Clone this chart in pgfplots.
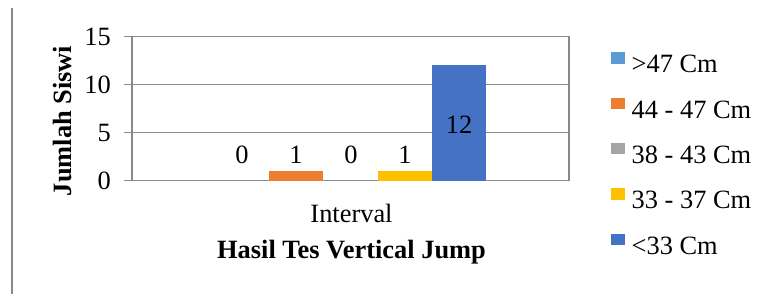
\documentclass[border=0pt]{standalone}
\usepackage{fontspec}
\setmainfont{Liberation Serif}
\usepackage{pgfplots}
\pgfplotsset{compat=1.18}
\definecolor{cA}{HTML}{5B9BD5}
\definecolor{cB}{HTML}{ED7D31}
\definecolor{cC}{HTML}{A5A5A5}
\definecolor{cD}{HTML}{FFC000}
\definecolor{cE}{HTML}{4472C4}
\definecolor{gridc}{HTML}{898989}
\pgfplotsset{sqleg/.style={legend image code/.code={\fill[##1] (0bp,3bp) rectangle (14bp,14.5bp);}}}
\begin{document}
\begin{tikzpicture}[font=\fontsize{26.5}{30}\selectfont]
\useasboundingbox (0,0) rectangle (768bp,294bp);
\draw[gridc, line width=1.5bp] (12bp,0) -- (12bp,286bp);
\begin{axis}[
  at={(132bp,113.3bp)}, anchor=south west,
  scale only axis, width=437bp, height=144bp,
  xmin=0, xmax=437, ymin=0, ymax=15,
  ybar, bar width=54, bar shift=0pt,
  ytick={0,5,10,15},
  ymajorgrids,
  major grid style={gridc, line width=1.3bp},
  axis line style={gridc, line width=1.3bp},
  tick style={gridc, line width=1.3bp},
  major tick length=8bp,
  tick align=outside,
  ytick pos=left, xtick pos=bottom,
  xtick={219.5}, xticklabels={Interval},
  xtick style={draw=none},
  xticklabel style={anchor=base, inner sep=0pt, yshift=-34.3bp},
  yticklabel style={anchor=east, inner sep=0pt, xshift=-13bp},
  /pgf/number format/assume math mode=true,
  xlabel={\bfseries Hasil Tes Vertical Jump},
  xlabel style={at={(axis description cs:0.5023,0)}, anchor=base, inner sep=0pt, yshift=-78bp},
  ylabel={\bfseries Jumlah Siswi},
  ylabel style={at={(axis description cs:-0.160,0.4155)}, anchor=center, rotate=0, inner sep=0pt},
  legend cell align=left,
  legend style={draw=none, fill=none, inner sep=0pt, outer sep=0pt,
    at={(axis description cs:1.0961,0.1736)}, anchor=west,
    column sep=6.7bp, row sep=19.9bp,
    nodes={inner sep=0pt, text height=17bp, text depth=5bp}},
]
\addplot[fill=cA, draw=none, sqleg, nodes near coords,
  nodes near coords style={anchor=center, inner sep=0pt, yshift=25.7bp, text=black}]
  coordinates {(110,0)};
\addlegendentry{>47 Cm}
\addplot[fill=cB, draw=none, sqleg, nodes near coords,
  nodes near coords style={anchor=center, inner sep=0pt, yshift=16.1bp, text=black}]
  coordinates {(164,1)};
\addlegendentry{44 - 47 Cm}
\addplot[fill=cC, draw=none, sqleg, nodes near coords,
  nodes near coords style={anchor=center, inner sep=0pt, yshift=25.7bp, text=black}]
  coordinates {(219,0)};
\addlegendentry{38 - 43 Cm}
\addplot[fill=cD, draw=none, sqleg, nodes near coords,
  nodes near coords style={anchor=center, inner sep=0pt, yshift=16.1bp, text=black}]
  coordinates {(273,1)};
\addlegendentry{33 - 37 Cm}
\addplot[fill=cE, draw=none, sqleg, nodes near coords,
  nodes near coords style={anchor=center, inner sep=0pt, yshift=-59.3bp, text=black}]
  coordinates {(327,12)};
\addlegendentry{<33 Cm}
\end{axis}
\end{tikzpicture}
\end{document}
